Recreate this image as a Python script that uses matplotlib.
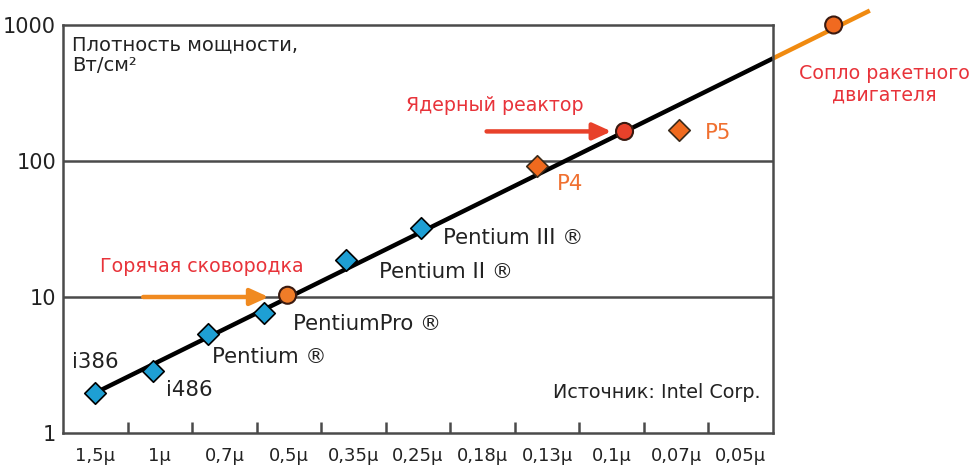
import numpy as np
import matplotlib
matplotlib.use("Agg")
import matplotlib.pyplot as plt

plt.rcParams['font.family'] = ['DejaVu Sans']

# technology nodes (category axis)
nodes = ['1,5μ', '1μ', '0,7μ', '0,5μ', '0,35μ', '0,25μ', '0,18μ', '0,13μ', '0,1μ', '0,07μ', '0,05μ']

# Intel processors (blue diamonds)
cpu_names = ['i386', 'i486', 'Pentium ®', 'PentiumPro ®', 'Pentium II ®', 'Pentium III ®']
cpu_x = [0.0, 0.9, 1.74, 2.62, 3.89, 5.04]
cpu_power = [1.97, 2.86, 5.3, 7.6, 18.7, 32.0]

# newer processors (orange diamonds)
new_names = ['P4', 'P5']
new_x = [6.84, 9.05]
new_power = [92.0, 168.0]

# reference points (circles)
ref_names = ['Горячая сковородка', 'Ядерный реактор', 'Сопло ракетного\nдвигателя']
ref_x = [2.98, 8.2, 11.44]
ref_power = [10.3, 165.0, 1000.0]

# trend line: inside the axes and its orange continuation
trend_x = [-0.1, 10.5]
trend_y = [1.87, 568.0]
trend_ext_x = [10.5, 12.0]
trend_ext_y = [568.0, 1276.0]

blue = '#1e9fd4'
orange = '#f06a1e'
red_txt = '#e8333a'
axis_col = '#4a4a4a'
txt_col = '#222222'

fig = plt.figure(figsize=(9.76, 4.68), dpi=100)
ax = fig.add_axes([0.0645, 0.0748, 0.7275, 0.8718])

ax.set_yscale('log')
ax.set_ylim(1, 1000)
ax.set_xlim(-0.5, 10.5)

# horizontal grid at 10 and 100 only
for v in [10, 100]:
    ax.axhline(v, color=axis_col, lw=1.8, zorder=1)

ax.plot(trend_x, trend_y, color='black', lw=3.2, zorder=2, solid_capstyle='butt')
ax.plot(trend_ext_x, trend_ext_y, color='#f08a10', lw=3.2, zorder=2, clip_on=False,
        solid_capstyle='butt')

ax.scatter(cpu_x, cpu_power, marker='D', s=120, color=blue, edgecolor='black',
           linewidth=1.2, zorder=3)
ax.scatter(new_x, new_power, marker='D', s=120, color=orange, edgecolor='#3a2a1a',
           linewidth=1.2, zorder=3)
ref_colors = ['#f07c28', '#e8412a', '#f06a20']
ax.scatter(ref_x, ref_power, marker='o', s=150, color=ref_colors, edgecolor='#3a1a10',
           linewidth=1.5, zorder=4, clip_on=False)

# arrows to reference points
ax.annotate('', xy=(2.73, 10), xytext=(0.7, 10),
            arrowprops=dict(arrowstyle='-|>,head_width=0.5,head_length=1.1',
                            color='#f08a20', lw=3.2), zorder=3)
ax.annotate('', xy=(8.04, 165), xytext=(6.02, 165),
            arrowprops=dict(arrowstyle='-|>,head_width=0.5,head_length=1.1',
                            color='#e8412a', lw=3.2), zorder=3)

# labels
fs = 15.3
cpu_lx = [-0.36, 1.09, 1.81, 3.07, 4.39, 5.38]
cpu_ly = [3.33, 2.07, 3.62, 6.3, 15.3, 27.2]
for name, lx, ly in zip(cpu_names, cpu_lx, cpu_ly):
    ax.text(lx, ly, name, fontsize=fs, color=txt_col, va='center', ha='left')

new_lx = [7.15, 9.44]
new_ly = [67.8, 160.0]
for name, lx, ly in zip(new_names, new_lx, new_ly):
    ax.text(lx, ly, name, fontsize=fs, color='#f07030', va='center', ha='left')

fs_ru = 13.7
ax.text(0.08, 16.9, ref_names[0], fontsize=fs_ru, color=red_txt, va='center', ha='left')
ax.text(4.82, 254, ref_names[1], fontsize=fs_ru, color=red_txt, va='center', ha='left')
ax.text(12.22, 368, ref_names[2], fontsize=fs_ru, color=red_txt, va='center', ha='center',
        linespacing=1.2)

ax.text(0.013, 0.975, 'Плотность мощности,\nВт/см²', transform=ax.transAxes,
        fontsize=14, color=txt_col, va='top', ha='left', linespacing=1.15)
ax.text(0.982, 0.10, 'Источник: Intel Corp.', transform=ax.transAxes,
        fontsize=13.8, color=txt_col, va='center', ha='right')

# axes styling
for s in ax.spines.values():
    s.set_color(axis_col)
    s.set_linewidth(1.8)

ax.set_yticks([1, 10, 100, 1000])
ax.set_yticklabels(['1', '10', '100', '1000'])
ax.yaxis.set_minor_locator(matplotlib.ticker.NullLocator())
ax.tick_params(axis='y', length=0, labelsize=15, pad=5, colors=txt_col)

ax.set_xticks(range(len(nodes)))
ax.set_xticklabels(nodes)
ax.tick_params(axis='x', which='major', length=0, labelsize=13, pad=10, colors=txt_col)
ax.set_xticks(np.arange(len(nodes) - 1) + 0.5, minor=True)
ax.tick_params(axis='x', which='minor', direction='in', length=8, width=1.8, color=axis_col)

fig.savefig('out.png', dpi=100)
